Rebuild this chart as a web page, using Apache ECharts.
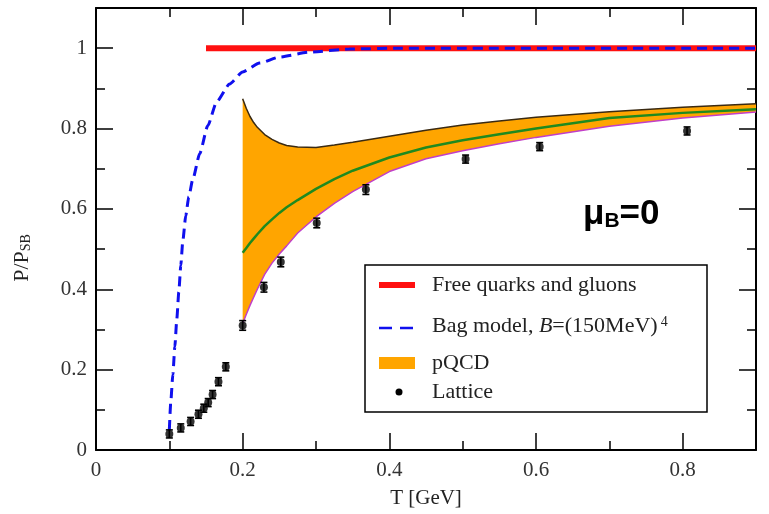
<!DOCTYPE html>
<html><head><meta charset="utf-8">
<script src="https://cdn.jsdelivr.net/npm/echarts@6/dist/echarts.min.js"></script>
<style>html,body{margin:0;padding:0;background:#fff}#c{width:769px;height:514px}</style>
</head><body><div id="c"></div>
<script>
// Free quarks and gluons (Stefan-Boltzmann limit)
const freeT = [0.15, 0.9];
const freeP = [1.0, 1.0];
// Bag model, B=(150MeV)^4
const bagT = [0.1, 0.102, 0.1048, 0.1075, 0.1102, 0.1129, 0.1156, 0.1184, 0.1224, 0.1265, 0.132, 0.1415, 0.1524, 0.1646, 0.1823, 0.2, 0.2231, 0.2503, 0.2912, 0.3456, 0.4136, 0.9];
const bagP = [0.05, 0.121, 0.188, 0.257, 0.326, 0.393, 0.459, 0.521, 0.583, 0.630, 0.674, 0.738, 0.807, 0.867, 0.911, 0.941, 0.963, 0.978, 0.990, 0.998, 1.0, 1.0];
// pQCD band
const bandT = [0.2, 0.205, 0.21, 0.215, 0.22, 0.23, 0.24, 0.25, 0.26, 0.275, 0.3, 0.325, 0.35, 0.4, 0.45, 0.5, 0.55, 0.6, 0.7, 0.8, 0.9];
const pqcdUpper = [0.874, 0.850, 0.830, 0.815, 0.803, 0.785, 0.773, 0.764, 0.758, 0.754, 0.753, 0.759, 0.766, 0.781, 0.796, 0.809, 0.819, 0.828, 0.842, 0.853, 0.862];
const pqcdMid = [0.491, 0.503, 0.515, 0.526, 0.537, 0.557, 0.574, 0.590, 0.604, 0.622, 0.650, 0.674, 0.695, 0.728, 0.753, 0.771, 0.786, 0.800, 0.826, 0.839, 0.848];
const pqcdLower = [0.315, 0.338, 0.360, 0.380, 0.400, 0.437, 0.465, 0.488, 0.508, 0.540, 0.580, 0.614, 0.643, 0.693, 0.725, 0.745, 0.762, 0.778, 0.806, 0.826, 0.841];
// Lattice
const latticeT = [0.1, 0.1156, 0.129, 0.1397, 0.147, 0.153, 0.159, 0.167, 0.177, 0.2, 0.229, 0.252, 0.301, 0.368, 0.504, 0.605, 0.806];
const latticeP = [0.040, 0.055, 0.071, 0.089, 0.104, 0.118, 0.138, 0.170, 0.207, 0.310, 0.405, 0.468, 0.565, 0.648, 0.724, 0.755, 0.794];
const latticeErr = [0.01, 0.01, 0.01, 0.01, 0.01, 0.01, 0.01, 0.01, 0.01, 0.012, 0.012, 0.012, 0.012, 0.012, 0.01, 0.01, 0.01];

const serif = '"Liberation Serif", "Times New Roman", serif';
const sans = '"Liberation Sans", Arial, sans-serif';

function xAx(pos, major, labels) {
  return {
    type: 'value', position: pos, min: 0, max: 0.9, interval: major ? 0.2 : 0.1,
    axisLine: { show: major, onZero: false, lineStyle: { color: '#000', width: 2 } },
    axisTick: { show: true, inside: true, length: major ? 17 : 9, lineStyle: { color: '#000', width: 1.5 } },
    axisLabel: { show: labels, showMaxLabel: false, margin: 10, fontSize: 21, fontFamily: serif, color: '#333' },
    splitLine: { show: false }
  };
}
function yAx(pos, major, labels) {
  return {
    type: 'value', position: pos, min: 0, max: 1.1, interval: major ? 0.2 : 0.1,
    axisLine: { show: major, onZero: false, lineStyle: { color: '#000', width: 2 } },
    axisTick: { show: true, inside: true, length: major ? 17 : 9, lineStyle: { color: '#000', width: 1.5 } },
    axisLabel: { show: labels, showMaxLabel: false, margin: 9, fontSize: 21, fontFamily: serif, color: '#333' },
    splitLine: { show: false }
  };
}

const xAxes = [xAx('bottom', true, true), xAx('bottom', false, false), xAx('top', true, false), xAx('top', false, false)];
xAxes[0].name = 'T [GeV]';
xAxes[0].nameLocation = 'middle';
xAxes[0].nameGap = 38;
xAxes[0].nameTextStyle = { fontSize: 21, fontFamily: serif, color: '#222' };
const yAxes = [yAx('left', true, true), yAx('left', false, false), yAx('right', true, false), yAx('right', false, false)];

const pts = (xs, ys) => xs.map((x, i) => [x, ys[i]]);

const option = {
  animation: false,
  backgroundColor: '#fff',
  grid: { left: 96, right: 13, top: 8, bottom: 60, containLabel: false },
  xAxis: xAxes,
  yAxis: yAxes,
  series: [
    {
      type: 'custom', name: 'pQCD', z: 1,
      data: [[0.5, 0.5]],
      renderItem: function (params, api) {
        const poly = [];
        for (let i = 0; i < bandT.length; i++) poly.push(api.coord([bandT[i], pqcdUpper[i]]));
        for (let i = bandT.length - 1; i >= 0; i--) poly.push(api.coord([bandT[i], pqcdLower[i]]));
        return { type: 'polygon', shape: { points: poly }, style: { fill: '#ffa500', stroke: null } };
      }
    },
    { type: 'line', name: 'upper', z: 2, data: pts(bandT, pqcdUpper), symbol: 'none', lineStyle: { color: '#3a2a12', width: 1.5 } },
    { type: 'line', name: 'mid', z: 2, data: pts(bandT, pqcdMid), symbol: 'none', lineStyle: { color: '#1f8a1f', width: 2.5 } },
    { type: 'line', name: 'lower', z: 2, data: pts(bandT, pqcdLower), symbol: 'none', lineStyle: { color: '#c13fc8', width: 1.5 } },
    { type: 'line', name: 'Free quarks and gluons', z: 3, data: pts(freeT, freeP), symbol: 'none', lineStyle: { color: '#ff1010', width: 6 } },
    { type: 'line', name: 'Bag model', z: 4, data: pts(bagT, bagP), symbol: 'none', smooth: 0.2, smoothMonotone: 'x',
      lineStyle: { color: '#1010ee', width: 3, type: [10, 6] } },
    {
      type: 'custom', name: 'err', z: 5,
      data: latticeT.map((t, i) => [t, latticeP[i], latticeErr[i]]),
      encode: { x: 0, y: 1 },
      renderItem: function (params, api) {
        const t = api.value(0), p = api.value(1), e = api.value(2);
        const a = api.coord([t, p + e]), b = api.coord([t, p - e]);
        const w = 3.5, st = { stroke: '#000', lineWidth: 1.6 };
        return { type: 'group', children: [
          { type: 'line', shape: { x1: a[0], y1: a[1], x2: b[0], y2: b[1] }, style: st },
          { type: 'line', shape: { x1: a[0] - w, y1: a[1], x2: a[0] + w, y2: a[1] }, style: st },
          { type: 'line', shape: { x1: b[0] - w, y1: b[1], x2: b[0] + w, y2: b[1] }, style: st }
        ] };
      }
    },
    { type: 'scatter', name: 'Lattice', z: 6, data: pts(latticeT, latticeP), symbol: 'circle', symbolSize: 8, itemStyle: { color: '#000' } }
  ],
  graphic: [
    { type: 'text', x: 22, y: 258, rotation: Math.PI / 2,
      style: { text: '{a|P/P}{b|SB}', align: 'center', verticalAlign: 'middle',
        rich: { a: { fontSize: 22, fontFamily: serif, fill: '#222' }, b: { fontSize: 14, fontFamily: serif, fill: '#222', verticalAlign: 'bottom' } } } },
    { type: 'rect', shape: { x: 365, y: 265, width: 342, height: 147 }, style: { fill: '#fff', stroke: '#000', lineWidth: 1.5 }, z: 50 },
    { type: 'line', shape: { x1: 379, y1: 285, x2: 415, y2: 285 }, style: { stroke: '#ff1010', lineWidth: 6 }, z: 51 },
    { type: 'line', shape: { x1: 379, y1: 328, x2: 415, y2: 328 }, style: { stroke: '#1010ee', lineWidth: 2.5, lineDash: [13, 8] }, z: 51 },
    { type: 'rect', shape: { x: 379, y: 357, width: 36, height: 12 }, style: { fill: '#ffa500' }, z: 51 },
    { type: 'circle', shape: { cx: 399, cy: 392, r: 3.5 }, style: { fill: '#000' }, z: 51 },
    { type: 'text', x: 432, y: 285, z: 51, style: { text: 'Free quarks and gluons', font: '22px ' + serif, fill: '#222', verticalAlign: 'middle' } },
    { type: 'text', x: 432, y: 326, z: 51, style: { text: '{n|Bag model, }{i|B}{n|=(150MeV)}{s|4}', verticalAlign: 'middle',
        rich: { n: { fontSize: 22, fontFamily: serif, fill: '#222' }, i: { fontSize: 22, fontFamily: serif, fontStyle: 'italic', fill: '#222' }, s: { fontSize: 14, fontFamily: serif, fill: '#222', verticalAlign: 'top', padding: [0, 0, 0, 3] } } } },
    { type: 'text', x: 432, y: 363, z: 51, style: { text: 'pQCD', font: '22px ' + serif, fill: '#222', verticalAlign: 'middle' } },
    { type: 'text', x: 432, y: 392, z: 51, style: { text: 'Lattice', font: '22px ' + serif, fill: '#222', verticalAlign: 'middle' } },
    { type: 'text', x: 583, y: 214, z: 51, style: { text: '{m|μ}{b|B}{m|=0}', verticalAlign: 'middle',
        rich: { m: { fontSize: 35, fontFamily: sans, fontWeight: 'bold', fill: '#000' }, b: { fontSize: 21, fontFamily: sans, fontWeight: 'bold', fill: '#000', verticalAlign: 'bottom' } } } }
  ]
};
const chart = echarts.init(document.getElementById('c'));
chart.setOption(option);
</script></body></html>
